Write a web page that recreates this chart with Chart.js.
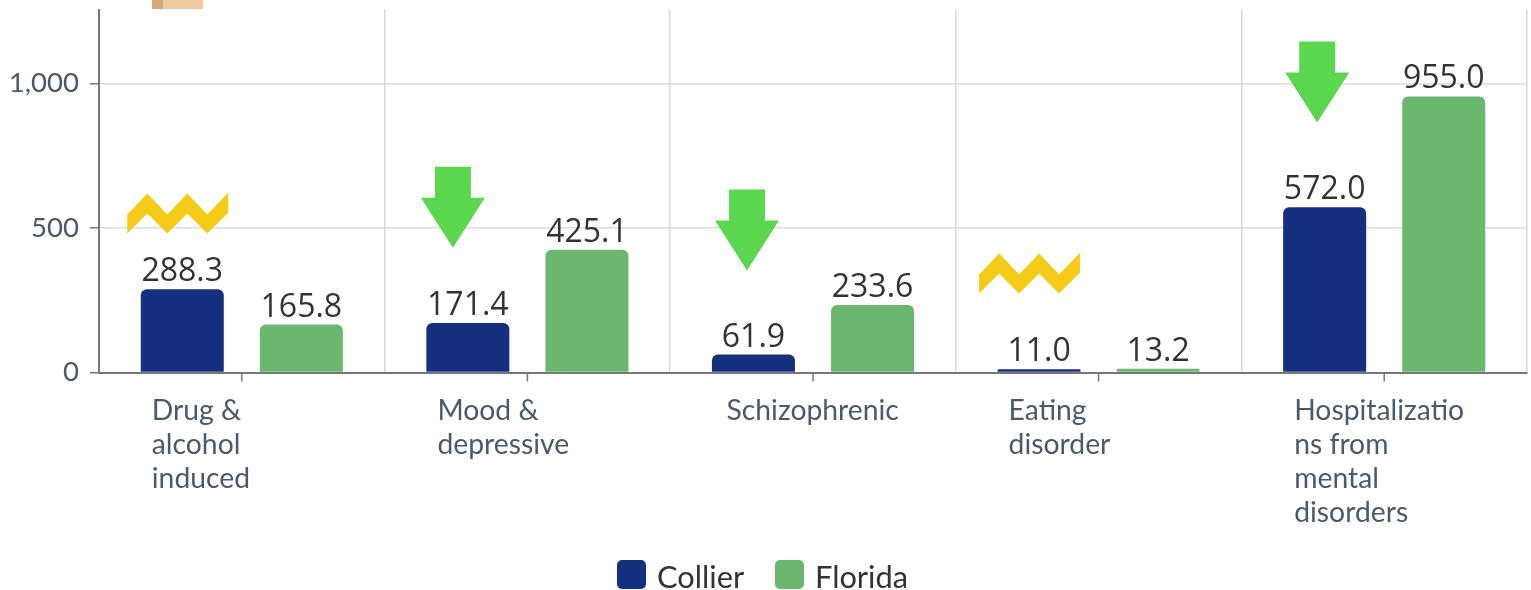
<!DOCTYPE html>
<html><head><meta charset="utf-8">
<style>html,body{margin:0;padding:0;background:#fff;overflow:hidden;width:1531px;height:590px}canvas{display:block}</style>
<script src="https://cdn.jsdelivr.net/npm/chart.js@4"></script>
</head><body><canvas id="c" width="1531" height="590"></canvas>
<script>
const categories = [["Drug &","alcohol","induced"],["Mood &","depressive"],["\u2009Schizophrenic"],["Eating","disorder"],["Hospitalizatio","ns from","mental","disorders"]];
const collierValues = [288.3,171.4,61.9,11.0,572.0];
const floridaValues = [165.8,425.1,233.6,13.2,955.0];
const yTickValues = [0,500,1000];
// overlay markers: kind, category index, pixel offset from category centre, value at lowest point
const markerKinds = ["zigzag","arrow","arrow","zigzag","arrow"];
const markerCats = [0,1,2,3,4];
const markerOffsets = [-64,-74.5,-66,-69,-67];
const markerValues = [481,432,353,273,865];

const navy='#14307e', green='#6bb76f', axisText='#4a5a6b', valueText='#333333';

const overlay = {
  id:'overlay',
  afterDatasetsDraw(chart){
    const {ctx,scales:{x,y}} = chart;
    ctx.save();
    ctx.font='32px "Open Sans"'; ctx.fillStyle=valueText; ctx.textAlign='center'; ctx.textBaseline='alphabetic';
    chart.data.datasets.forEach((ds,di)=>{
      chart.getDatasetMeta(di).data.forEach((el,i)=>{
        ctx.fillText(ds.data[i].toFixed(1), el.x, el.y-8);
      });
    });
    ctx.strokeStyle='#777'; ctx.lineWidth=1.5;
    categories.forEach((c,i)=>{
      const p=x.getPixelForValue(i);
      ctx.beginPath(); ctx.moveTo(p,y.bottom); ctx.lineTo(p,y.bottom+9); ctx.stroke();
    });
    markerKinds.forEach((k,i)=>{
      const cx=x.getPixelForValue(markerCats[i])+markerOffsets[i];
      const by=y.getPixelForValue(markerValues[i]);
      if(k==='arrow'){
        ctx.fillStyle='#5ad64f';
        ctx.beginPath();
        ctx.moveTo(cx,by);ctx.lineTo(cx+32,by-50);ctx.lineTo(cx+18,by-50);ctx.lineTo(cx+18,by-81);
        ctx.lineTo(cx-18,by-81);ctx.lineTo(cx-18,by-50);ctx.lineTo(cx-32,by-50);
        ctx.closePath();ctx.fill();
      } else {
        ctx.fillStyle='#f6cb17';
        const l=cx-50.5;
        ctx.beginPath();
        ctx.moveTo(l,by-19);ctx.lineTo(l+20,by-40);ctx.lineTo(l+40,by-19);ctx.lineTo(l+60,by-40);ctx.lineTo(l+80,by-19);ctx.lineTo(l+100,by-40);ctx.lineTo(l+101,by-40);
        ctx.lineTo(l+101,by-21);ctx.lineTo(l+100,by-20);ctx.lineTo(l+80,by);ctx.lineTo(l+60,by-20);ctx.lineTo(l+40,by);ctx.lineTo(l+20,by-20);ctx.lineTo(l,by);
        ctx.closePath();ctx.fill();
      }
    });
    ctx.fillStyle='#f0c9a0'; ctx.fillRect(163,0,40,9);
    ctx.fillStyle='#d2a880'; ctx.fillRect(152,0,11,9);

    // legend
    ctx.font='30.8px Lato'; ctx.textAlign='left'; ctx.textBaseline='middle';
    let lx=617;
    chart.data.datasets.forEach(ds=>{
      ctx.fillStyle=ds.backgroundColor;
      ctx.beginPath(); ctx.roundRect(lx,560,29,29,5); ctx.fill();
      ctx.fillStyle='#333333';
      ctx.fillText(ds.label,lx+40,578.5);
      lx+=158;
    });
    ctx.restore();
  }
};

new Chart(document.getElementById('c'),{
  type:'bar',
  data:{labels:categories,datasets:[
    {label:'Collier',data:collierValues,backgroundColor:navy,borderRadius:{topLeft:6,topRight:6},borderSkipped:'bottom'},
    {label:'Florida',data:floridaValues,backgroundColor:green,borderRadius:{topLeft:6,topRight:6},borderSkipped:'bottom'}
  ]},
  plugins:[overlay],
  options:{
    responsive:false,animation:false,
    devicePixelRatio:1,
    layout:{padding:{top:9.5,right:4,left:0,bottom:61.5}},
    datasets:{bar:{categoryPercentage:0.834,barPercentage:0.697}},
    plugins:{tooltip:{enabled:false},legend:{display:false}},
    scales:{
      x:{
        grid:{color:'#d9d9d9',lineWidth:1.5,drawTicks:false},
        border:{color:'#777777',width:2},
        ticks:{color:axisText,font:{family:'Lato',size:28.3,lineHeight:1.2},align:'start',labelOffset:-90,padding:21.5,maxRotation:0,autoSkip:false},
        afterFit(s){s.height=156;s.paddingLeft=0;s.paddingRight=0;}
      },
      y:{
        min:0,max:1256,
        afterBuildTicks(s){s.ticks=yTickValues.map(v=>({value:v}));},
        grid:{color:'#dcdcdc',lineWidth:1.5,tickColor:'#777777',tickLength:9},
        border:{color:'#777777',width:2},
        ticks:{color:axisText,font:{family:'Lato',size:27.6},padding:11,callback:v=>v.toLocaleString('en-US')},
        afterFit(s){s.width=99;s.paddingTop=0;s.paddingBottom=0;}
      }
    }
  }
});
</script></body></html>
